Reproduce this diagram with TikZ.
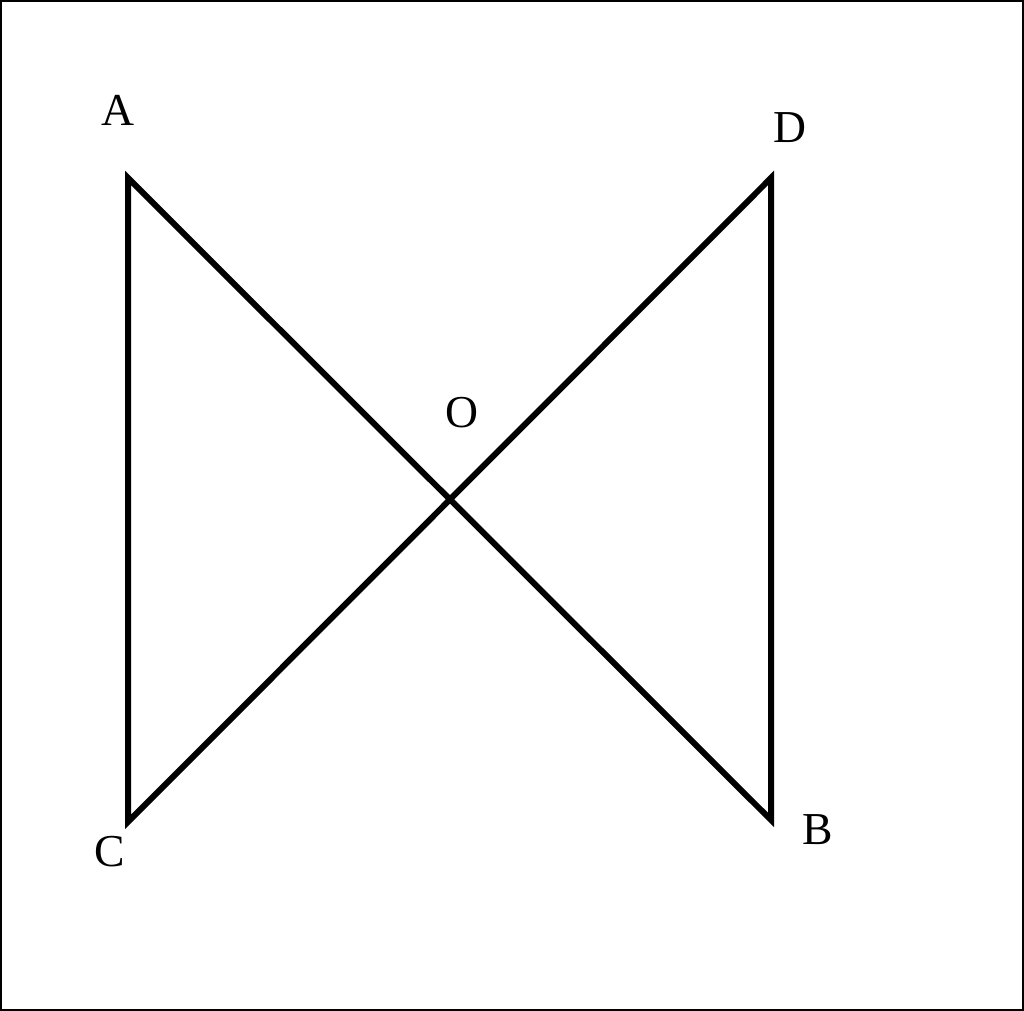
\documentclass[tikz,border=0pt]{standalone}
\usepackage{fontspec}
\setmainfont{Liberation Serif}
\usetikzlibrary{calc}

\tikzset{
    edge/.style={line width=0.06cm},
    lbl/.style={font=\fontsize{13}{15}\selectfont, inner sep=0pt}
}

\begin{document}
\begin{tikzpicture}
    \useasboundingbox (0,0) rectangle (10.24,10.11);
    \draw[line width=0.02cm] (0.01,0.01) rectangle (10.23,10.10);

    \coordinate (A) at (1.28,8.33);
    \coordinate (D) at (7.71,8.33);
    \coordinate (C) at (1.28,1.89);
    \coordinate (B) at (7.71,1.91);

    \draw[edge] (A) -- (C) -- (D) -- (B) -- cycle;

    \node[lbl] (labelA) at (1.18,9.01) {A};
    \node[lbl] (labelD) at (7.90,8.83) {D};
    \node[lbl] (labelO) at (4.62,5.98) {O};
    \node[lbl] (labelC) at (1.10,1.59) {C};
    \node[lbl] (labelB) at (8.18,1.81) {B};
\end{tikzpicture}
\end{document}
